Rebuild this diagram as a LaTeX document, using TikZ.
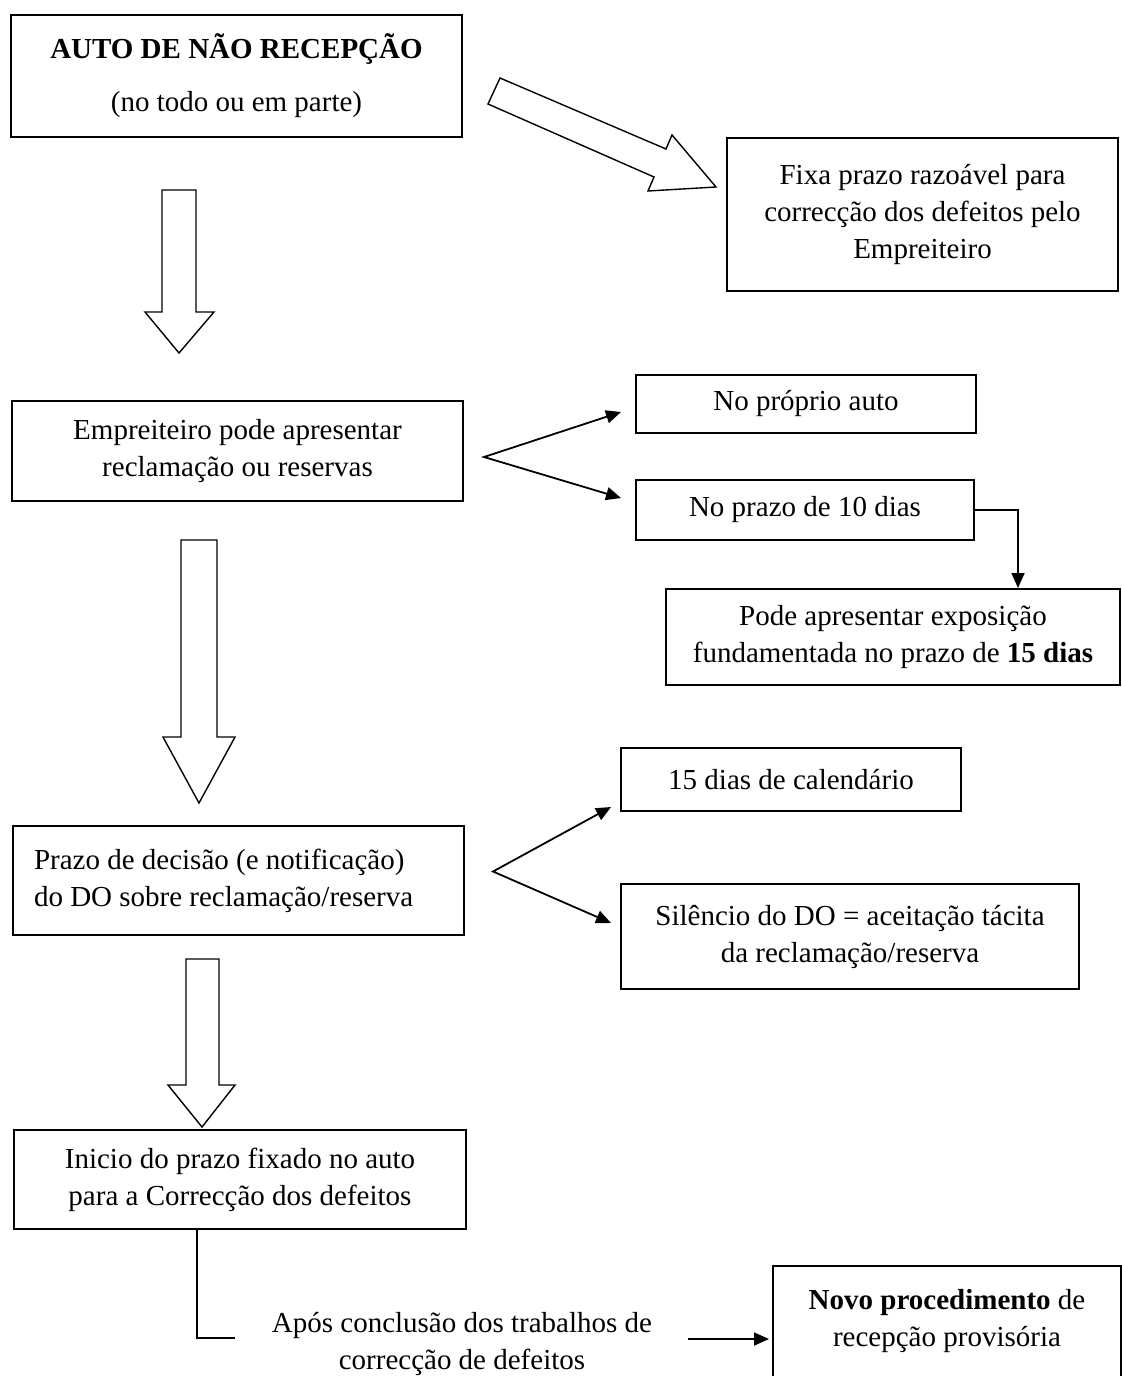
\documentclass[tikz,border=0pt]{standalone}
\usepackage{fontspec}
\setmainfont{Liberation Serif}
\usetikzlibrary{arrows.meta,calc}
\newcommand\diagfont{\fontsize{14.5pt}{18.5pt}\selectfont}
\begin{document}
\begin{tikzpicture}[x=0.5pt,y=-0.5pt,
  box/.style={draw, line width=1pt, inner sep=0pt, align=center, font=\diagfont},
  barrow/.style={draw, line width=0.7pt, line join=miter},
  conn/.style={draw, line width=0.9pt},
  tipend/.style={-{Triangle[length=7.5pt,width=6.5pt]}},
  tipboth/.style={{Triangle[length=7.5pt,width=6.5pt]}-{Triangle[length=7.5pt,width=6.5pt]}, line join=miter},
  ]
\useasboundingbox (0,0) rectangle (1122,1376);
\clip (0,0) rectangle (1122,1376);

% boxes
\node[box, minimum width=225.5pt, minimum height=61pt] (auto) at (236.5,76)
  {\textbf{AUTO DE NÃO RECEPÇÃO}\\[8pt](no todo ou em parte)};
\node[box, minimum width=195.5pt, minimum height=76.5pt] (fixa) at (922.5,214.5)
  {Fixa prazo razoável para\\correcção dos defeitos pelo\\Empreiteiro};
\node[box, minimum width=225.5pt, minimum height=50pt] (empre) at (237.5,451)
  {Empreiteiro pode apresentar\\reclamação ou reservas};
\node[box, minimum width=170pt, minimum height=29pt] (proprio) at (806,404)
  {No próprio auto};
\node[box, minimum width=169pt, minimum height=30pt] (prazo10) at (805,510)
  {No prazo de 10 dias};
\node[box, minimum width=227pt, minimum height=48pt] (pode) at (893,637)
  {Pode apresentar exposição\\fundamentada no prazo de \textbf{15 dias}};
\node[box, minimum width=225.5pt, minimum height=54.5pt, align=flush left, text width=204.5pt, inner xsep=10.5pt] (prazo) at (238.5,880.5)
  {Prazo de decisão (e notificação)\\do DO sobre reclamação/reserva};
\node[box, minimum width=170pt, minimum height=31.5pt] (dias15) at (791,779.5)
  {15 dias de calendário};
\node[box, minimum width=229pt, minimum height=52.5pt] (silencio) at (850,936.5)
  {Silêncio do DO = aceitação tácita\\da reclamação/reserva};
\node[box, minimum width=226pt, minimum height=49.5pt] (inicio) at (240,1179.5)
  {Inicio do prazo fixado no auto\\para a Correcção dos defeitos};
\node[box, minimum width=174pt, minimum height=70pt, anchor=north] (novo) at (947,1265)
  {\textbf{Novo procedimento} de\\recepção provisória\\\mbox{}};
\node[font=\diagfont, align=center, inner sep=0pt] (apos) at (462,1344)
  {Após conclusão dos trabalhos de\\correcção de defeitos};

% block arrows
\draw[barrow] (500,78) -- (666,149) -- (672,135) -- (716,187) -- (648,191) -- (654,177) -- (488,104) -- cycle;
\draw[barrow] (162,190) -- (196,190) -- (196,312) -- (214,312) -- (179,353) -- (145,312) -- (162,312) -- cycle;
\draw[barrow] (181,540) -- (217,540) -- (217,737) -- (235,737) -- (199,803) -- (163,737) -- (181,737) -- cycle;
\draw[barrow] (186,959) -- (219,959) -- (219,1085) -- (235,1085) -- (202,1127) -- (168,1085) -- (186,1085) -- cycle;

% fan from Empreiteiro
\coordinate (fanA) at ($(empre.east)+(20,6)$);
\draw[conn, tipboth] ($(proprio.west)+(-14,8)$) -- (fanA) -- ($(prazo10.west)+(-14,-12)$);
% elbow to Pode
\draw[conn, tipend] (prazo10.east) -| ($(pode.north west)+(353,0)$);

% fan from Prazo
\coordinate (fanB) at ($(prazo.east)+(28,-9)$);
\draw[conn, tipboth] ($(dias15.west)+(-9,27.5)$) -- (fanB) -- ($(silencio.west)+(-9,-13.5)$);

% bottom connectors
\coordinate (aposBend) at (197,1338);
\coordinate (aposL) at (235,1338);
\draw[conn] (inicio.south -| aposBend) -- (aposBend) -- (aposL);
\coordinate (aposR) at (688,1339);
\draw[conn, tipend, shorten >=1.5pt] (aposR) -- (aposR -| novo.west);
\end{tikzpicture}
\end{document}
